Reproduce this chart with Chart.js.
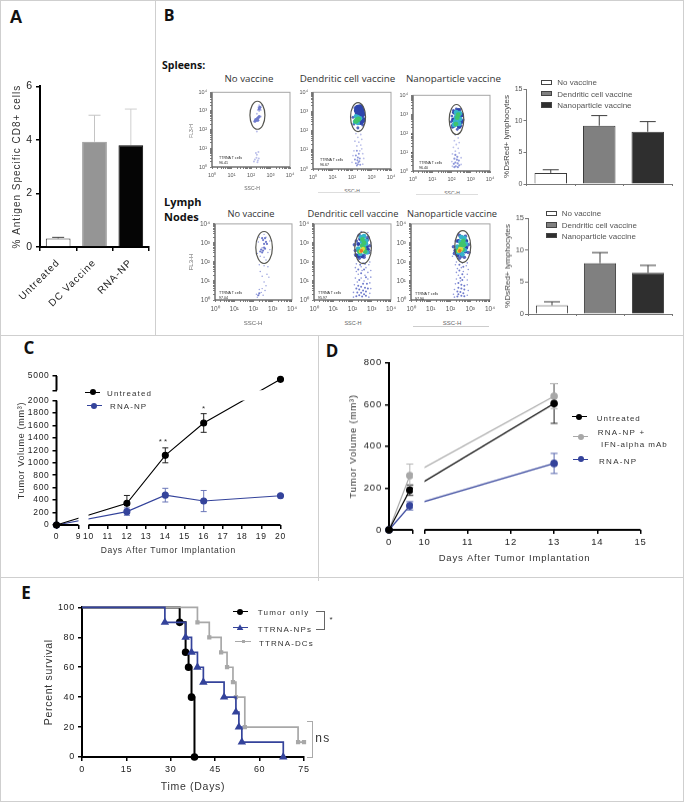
<!DOCTYPE html>
<html>
<head>
<meta charset="utf-8">
<script src="https://cdn.jsdelivr.net/npm/chart.js@4"></script>
<style>
html,body{margin:0;padding:0;background:#fff}
#fig{position:absolute;left:0;top:0;width:684px;height:802px;overflow:hidden;background:#fff;filter:blur(.3px)}
#fig canvas{position:absolute}
#fig div{position:absolute;white-space:nowrap}
</style>
</head>
<body>
<div id="fig"></div>
<script>
// panel A
var aCategories = ['Untreated', 'DC Vaccine', 'RNA-NP'];
var aValues = [0.32, 3.93, 3.8];
var aErrors = [0.04, 0.99, 1.35];

// panel B bars
var bCategories = ['No vaccine', 'Dendritic cell vaccine', 'Nanoparticle vaccine'];
var spleenValues = [1.75, 9.2, 8.25];
var spleenErrors = [0.5, 1.6, 1.6];
var nodeValues = [1.35, 7.95, 6.45];
var nodeErrors = [0.55, 1.65, 1.15];

// panel C
var cDays = [0, 12, 14, 16, 20];
var cUntreated = [0, 350, 1120, 1640, 4300];
var cUntreatedErr = [0, 125, 120, 150, 0];
var cRnaNp = [0, 215, 480, 385, 470];
var cRnaNpErr = [0, 60, 110, 170, 0];
var cXTicks = [0, 9, 10, 11, 12, 13, 14, 15, 16, 17, 18, 19, 20];
var cYTicks = [0, 200, 400, 600, 800, 1000, 1200, 1400, 1600, 1800, 2000, 2001, 5000];

// panel D
var dDays = [0, 7, 13];
var dUntreated = [0, 190, 605];
var dUntreatedErr = [0, 25, 95];
var dCombo = [0, 260, 640];
var dComboErr = [0, 55, 60];
var dRnaNp = [0, 115, 318];
var dRnaNpErr = [0, 20, 48];
var dXTicks = [0, 8, 10, 11, 12, 13, 14, 15];

// panel E
var eTumorDays = [0, 33, 35, 36, 37, 38];
var eTumorSurv = [100, 90, 70, 60, 40, 0];
var eNpDays = [0, 28, 35, 37, 39, 41, 48, 52, 53, 54, 68];
var eNpSurv = [100, 90, 80, 70, 60, 50, 40, 30, 20, 10, 0];
var eDcDays = [0, 39, 43, 47, 49, 51, 52, 55, 73, 75];
var eDcSurv = [100, 90, 80, 70, 60, 50, 40, 20, 10, 10];

// flow plots, [log10 SSC, log10 FL3] read by eye
var s1Pale = [[2.42,3.3],[2.5,3.2],[2.45,3.1],[2.38,3.2],[2.5,3.05],[2.42,3.0],[2.55,3.3],[2.35,3.05],[2.3,2.85],[2.2,2.55],[2.5,2.7],[2.3,0.65],[2.2,0.4],[2.35,0.35],[2.28,0.5],[2.4,0.45],[2.33,0.25],[2.15,0.3],[2.25,0.75],[2.38,0.8],[2.3,1.9]];
var s1Blue = [[2.25,2.55],[2.32,2.6],[2.38,2.65],[2.28,2.5],[2.42,2.7],[2.2,2.45],[2.35,2.5],[2.45,3.2],[2.42,3.1]];

var s2Pale = [[2.3,2.1],[2.4,2.0],[2.2,1.85],[2.45,1.8],[2.3,1.65],[2.5,1.55],[2.15,1.45],[2.35,1.4],[2.45,1.25],[2.25,1.2],[2.5,1.05],[2.1,0.95],[2.4,0.95],[2.55,0.8],[2.05,0.7],[2.6,0.55],[2.0,0.35],[2.55,0.25]];
var s2Blue = [[2.25,0.95],[2.35,0.8],[2.2,0.7],[2.3,0.6],[2.4,0.55],[2.15,0.5],[2.28,0.45],[2.38,0.4],[2.2,0.3],[2.3,0.25],[2.42,0.22],[2.25,0.18],[2.33,0.35]];
var s2Ring = [[2.05,2.7],[2.6,2.6],[2.55,2.3],[2.3,2.15],[2.1,2.35],[2.6,2.95],[2.15,3.2]];
var s2Dark = [[2.3,3.2],[2.42,3.22],[2.25,3.05],[2.38,3.05],[2.5,3.05],[2.3,2.9],[2.42,2.9],[2.52,2.85],[2.45,2.45],[2.55,2.55]];
var s2Cyan = [[2.15,2.45],[2.3,2.72],[2.42,2.65],[2.2,2.75],[2.3,2.4]];
var s2Green = [[2.25,2.55],[2.33,2.6],[2.2,2.5]];

var s3Pale = [[2.3,2.15],[2.4,2.0],[2.2,1.9],[2.35,1.75],[2.15,1.6],[2.4,1.5],[2.25,1.4],[2.1,1.25],[2.35,1.2],[2.2,1.05],[2.4,0.95],[2.05,0.9],[2.5,0.7],[2.02,0.5],[2.5,0.35],[2.05,0.25]];
var s3Blue = [[2.2,0.85],[2.3,0.75],[2.15,0.65],[2.28,0.6],[2.38,0.55],[2.2,0.45],[2.32,0.4],[2.12,0.38],[2.4,0.3],[2.22,0.25],[2.33,0.2],[2.15,0.2]];
var s3Ring = [[2.1,3.2],[2.25,3.28],[2.45,3.25],[2.55,3.0],[2.6,2.7],[2.5,2.4],[2.3,2.2],[2.05,2.3],[1.98,2.6],[2.02,2.9]];
var s3Dark = [[2.15,3.1],[2.35,3.2],[2.5,2.95],[2.5,2.6],[2.1,2.7],[2.4,2.35],[2.1,2.4]];
var s3Cyan = [[2.25,3.1],[2.42,3.05],[2.25,2.85],[2.42,2.75],[2.2,2.62],[2.38,2.5],[2.15,2.45]];
var s3Green = [[2.35,2.98],[2.3,2.82],[2.23,2.48]];

var n1Pale = [[2.3,3.3],[2.55,3.45],[2.65,3.3],[2.85,3.1],[2.25,3.05],[2.45,2.75],[2.2,2.45],[2.75,2.5],[2.35,2.3],[2.55,2.25],[2.85,2.65],[2.65,2.1],[2.3,1.85],[2.55,1.8],[2.75,1.75],[2.35,1.5],[2.7,1.35],[2.45,1.25],[2.8,1.2],[2.55,0.95],[2.65,0.75],[2.45,0.6],[2.6,0.5],[2.15,0.3],[2.3,0.55],[2.5,0.25],[2.2,0.15],[2.4,0.4]];
var n1Blue = [[2.6,3.25],[2.5,3.15],[2.65,3.05],[2.55,2.95],[2.45,3.25],[2.7,2.95],[2.4,2.65],[2.5,2.6],[2.6,2.7],[2.35,2.55],[2.55,2.75],[2.45,2.5],[2.25,0.25],[2.3,0.35]];

var n2Pale = [[2.45,3.6],[2.8,3.55],[2.1,2.4],[2.95,2.6],[2.95,3.0],[2.3,2.05],[2.9,2.0],[2.2,1.9],[2.55,1.95],[2.85,1.85],[2.15,1.7],[2.45,1.75],[2.7,1.7],[2.95,1.55],[2.2,1.5],[2.5,1.55],[2.8,1.45],[2.3,1.35],[2.65,1.3],[2.95,1.2],[2.15,1.15],[2.45,1.15],[2.8,1.1],[2.25,0.95],[2.6,1.0],[2.9,0.9],[2.1,0.8],[2.95,0.6],[2.05,0.4],[2.9,0.35],[2.05,0.15],[2.85,0.15]];
var n2Blue = [[2.4,1.85],[2.65,1.9],[2.3,1.6],[2.6,1.6],[2.45,1.4],[2.7,1.2],[2.35,1.05],[2.55,0.85],[2.75,0.85],[2.3,0.75],[2.45,0.7],[2.65,0.65],[2.8,0.6],[2.2,0.6],[2.35,0.55],[2.55,0.5],[2.7,0.45],[2.25,0.4],[2.45,0.38],[2.6,0.3],[2.35,0.25],[2.5,0.18],[2.2,0.2],[2.7,0.22]];
var n2Ring = [[2.2,3.1],[2.35,3.4],[2.8,3.3],[2.9,2.85],[2.85,2.5],[2.6,2.25],[2.35,2.2],[2.15,2.6],[2.1,2.9],[2.6,2.35]];
var n2Dark = [[2.4,3.2],[2.75,3.15],[2.75,2.8],[2.3,2.95],[2.2,2.35],[2.5,2.3],[2.8,2.65],[2.3,2.3]];
var n2Cyan = [[2.45,3.3],[2.6,3.35],[2.7,3.1],[2.5,3.05],[2.62,2.9],[2.3,2.7],[2.75,2.5],[2.4,2.42],[2.7,2.95]];
var n2Green = [[2.52,3.18],[2.6,3.0],[2.5,2.85],[2.35,2.55],[2.6,2.72],[2.65,2.55]];
var n2Yellow = [[2.42,2.55],[2.55,2.7],[2.48,2.62]];
var n2Orange = [[2.46,2.58]];

var n3Pale = [[2.4,3.5],[2.8,3.4],[2.1,2.3],[3.0,2.5],[2.95,3.0],[2.3,2.0],[2.85,1.95],[2.25,1.85],[2.6,1.95],[2.8,1.8],[2.35,1.65],[2.55,1.7],[2.9,1.6],[2.3,1.45],[2.65,1.5],[2.85,1.35],[2.4,1.3],[2.7,1.2],[2.3,1.1],[2.85,1.05],[2.5,1.0],[2.25,0.85],[2.85,0.8],[2.2,0.55],[2.9,0.5],[2.15,0.3],[2.85,0.25],[2.2,0.15]];
var n3Blue = [[2.45,1.85],[2.65,1.75],[2.45,1.55],[2.6,1.35],[2.5,1.15],[2.6,1.05],[2.4,0.9],[2.55,0.8],[2.7,0.75],[2.4,0.65],[2.55,0.6],[2.7,0.55],[2.35,0.45],[2.5,0.42],[2.65,0.35],[2.4,0.3],[2.55,0.22],[2.7,0.2],[2.35,0.18]];
var n3Ring = [[2.3,3.1],[2.45,3.4],[2.75,3.35],[2.9,2.9],[2.9,2.5],[2.7,2.25],[2.45,2.2],[2.2,2.45],[2.15,2.8],[2.55,2.3]];
var n3Dark = [[2.4,3.1],[2.8,3.1],[2.8,2.75],[2.25,2.6],[2.35,2.35],[2.55,2.4],[2.75,2.55]];
var n3Cyan = [[2.55,3.3],[2.7,3.25],[2.5,3.05],[2.78,2.95],[2.35,2.8],[2.4,2.5],[2.72,2.62],[2.6,2.4]];
var n3Green = [[2.65,3.1],[2.55,2.95],[2.68,2.88],[2.5,2.8],[2.35,2.6],[2.62,2.65]];
var n3Yellow = [[2.42,2.58],[2.55,2.68],[2.48,2.7]];
var n3Orange = [[2.47,2.58]];

var minorLog = [0.301, 0.477, 0.602, 0.699, 0.778, 0.845, 0.903, 0.954];
var superscripts = ['⁰', '¹', '²', '³', '⁴'];

var fig = document.getElementById('fig');
var sansFont = 'Liberation Sans, Arial, sans-serif';
var bodyFont = 'Open Sans, Noto Sans, sans-serif';
var blue = '#34439b';
var grey = '#a8a8a8';

function text(str, x, y, o) {
	o = o || {};
	var d = document.createElement('div');
	d.textContent = str;
	d.style.left = x + 'px';
	d.style.top = y + 'px';
	d.style.font = (o.weight || 'normal') + ' ' + (o.size || 10) + 'px ' + (o.font || sansFont);
	d.style.color = o.color || '#222';
	d.style.letterSpacing = (o.ls || 0) + 'px';
	var tr = o.left ? 'translate(0,-50%)' : 'translate(-50%,-50%)';
	if (o.rot) tr += ' rotate(' + o.rot + 'deg)';
	d.style.transform = tr;
	fig.appendChild(d);
}

function block(x, y, w, h, css) {
	var d = document.createElement('div');
	d.style.cssText = 'left:' + x + 'px;top:' + y + 'px;width:' + w + 'px;height:' + h + 'px;' + (css || '');
	fig.appendChild(d);
}

function keyLine(x1, x2, y, color, mx, shape) {
	block(x1, y - 0.5, x2 - x1, 1, 'background:' + color);
	if (shape == 'circle') block(mx - 3, y - 3, 6, 6, 'background:' + color + ';border-radius:50%');
	if (shape == 'triangle') block(mx - 3.5, y - 3.5, 7, 6, 'background:' + color + ';clip-path:polygon(50% 0,100% 100%,0 100%)');
	if (shape == 'square') block(mx - 1.5, y - 1.5, 3, 3, 'background:' + color);
}

function swatch(x, y, w, h, fill) {
	block(x, y - h / 2, w, h, 'box-sizing:border-box;border:1px solid #444;background:' + fill);
}

// draw error bars from dataset.errors through the chart's scales
var errorBars = {
	id: 'errorBars',
	beforeDatasetsDraw: function(chart) {
		var ctx = chart.ctx;
		chart.data.datasets.forEach(function(ds, i) {
			if (!ds.errors) return;
			var meta = chart.getDatasetMeta(i);
			var yScale = chart.scales[meta.yAxisID];
			ctx.save();
			ctx.lineWidth = ds.errorWidth || 1;
			ds.errors.forEach(function(err, j) {
				if (!err) return;
				var v = ds.data[j].y !== undefined ? ds.data[j].y : ds.data[j];
				var x = meta.data[j].x;
				var up = yScale.getPixelForValue(v + err);
				var down = ds.upOnly ? yScale.getPixelForValue(v) : yScale.getPixelForValue(v - err);
				var cap = ds.errorCap / 2;
				ctx.strokeStyle = ds.errorColors ? ds.errorColors[j] : ds.errorColor;
				ctx.beginPath();
				ctx.moveTo(x, up);
				ctx.lineTo(x, down);
				ctx.moveTo(x - cap, up);
				ctx.lineTo(x + cap, up);
				if (!ds.upOnly) {
					ctx.moveTo(x - cap, down);
					ctx.lineTo(x + cap, down);
				}
				ctx.stroke();
			});
			ctx.restore();
		});
	}
};

// linear scale cut in pieces, for the broken axes of C and D
class BrokenScale extends Chart.LinearScale {
	getPixelForValue(v) {
		var ps = this.options.pieces;
		var p = ps[ps.length - 1];
		for (var i = 0; i < ps.length; i++) {
			if (v <= ps[i].to) { p = ps[i]; break; }
		}
		var off = p.a + (v - p.from) / (p.to - p.from) * (p.b - p.a);
		return this.isHorizontal() ? this.left + off : this.bottom - off;
	}
}
BrokenScale.id = 'broken';
BrokenScale.defaults = Chart.LinearScale.defaults;
Chart.register(BrokenScale);

// lines are hidden inside the breaks and the axis is drawn piece by piece
var breaks = {
	id: 'breaks',
	beforeDatasetsDraw: function(chart) {
		var ctx = chart.ctx;
		ctx.save();
		ctx.beginPath();
		ctx.rect(0, 0, chart.width, chart.height);
		['x', 'y'].forEach(function(k) {
			var s = chart.scales[k];
			if (s.type != 'broken') return;
			var ps = s.options.pieces;
			for (var i = 0; i < ps.length - 1; i++) {
				var p0 = s.getPixelForValue(ps[i].to);
				var p1 = s.getPixelForValue(ps[i + 1].from);
				if (k == 'x') ctx.rect(p0, 0, p1 - p0, chart.height);
				else ctx.rect(0, p1, chart.width, p0 - p1);
			}
		});
		ctx.clip('evenodd');
	},
	afterDatasetsDraw: function(chart) {
		chart.ctx.restore();
	},
	afterDraw: function(chart) {
		var ctx = chart.ctx;
		ctx.save();
		ctx.strokeStyle = '#000';
		ctx.lineWidth = 2;
		['x', 'y'].forEach(function(k) {
			var s = chart.scales[k];
			if (s.type != 'broken') return;
			s.options.pieces.forEach(function(p) {
				var a = s.getPixelForValue(p.from);
				var b = s.getPixelForValue(p.to);
				ctx.beginPath();
				if (k == 'x') {
					ctx.moveTo(a, chart.chartArea.bottom);
					ctx.lineTo(b, chart.chartArea.bottom);
				} else {
					ctx.moveTo(chart.chartArea.left, a);
					ctx.lineTo(chart.chartArea.left, b);
				}
				ctx.stroke();
			});
		});
		ctx.restore();
	}
};

function spacing(px) {
	return {
		id: 'spacing',
		beforeDraw: function(chart) {
			chart.ctx.letterSpacing = px + 'px';
		}
	};
}

function makeChart(box, m, config) {
	var c = document.createElement('canvas');
	var w = box.r - box.l + m.left + m.right;
	var h = box.b - box.t + m.top + m.bottom;
	c.width = w;
	c.height = h;
	c.style.left = (box.l - m.left) + 'px';
	c.style.top = (box.t - m.top) + 'px';
	c.style.width = w + 'px';
	c.style.height = h + 'px';
	fig.appendChild(c);
	var opt = config.options;
	opt.responsive = false;
	opt.animation = false;
	opt.devicePixelRatio = 1;
	opt.layout = { padding: { left: 0, top: m.top, right: m.right, bottom: 0 } };
	opt.plugins = { legend: { display: false }, tooltip: { enabled: false } };
	opt.scales.x.afterFit = function(s) { s.height = m.bottom; };
	opt.scales.y.afterFit = function(s) { s.width = m.left; };
	return new Chart(c, config);
}

function strongAxis(size, color, width) {
	return {
		border: { display: true, color: color || '#000', width: width || 2 },
		grid: { drawOnChartArea: false, drawTicks: true, tickLength: 4, color: color || '#000', lineWidth: width || 1.5 },
		ticks: { font: { family: sansFont, size: size }, color: '#222', padding: 3, autoSkip: false, maxRotation: 0 }
	};
}

function withTitle(axis, str, size, color) {
	axis.title = { display: true, text: str, font: { family: sansFont, size: size }, color: color || '#333', padding: { top: 0, bottom: 0 } };
	return axis;
}

function pairs(xs, ys) {
	return xs.map(function(x, i) { return { x: x, y: ys[i] }; });
}

// ---- panel frames ----
block(0, 0, 684, 1, 'background:#cfcfcf');
block(0, 0, 1, 802, 'background:#cfcfcf');
block(683, 0, 1, 802, 'background:#cfcfcf');
block(155, 0, 1, 335, 'background:#cfcfcf');
block(0, 335, 684, 1, 'background:#cfcfcf');
block(318, 335, 1, 246, 'background:#cfcfcf');
block(0, 577, 684, 1, 'background:#cfcfcf');
block(0, 801, 684, 1, 'background:#cfcfcf');

text('A', 16, 17, { size: 18, weight: 'bold', font: sansFont, color: '#111' });
text('B', 169, 15, { size: 16, weight: 'bold', font: bodyFont, color: '#111' });
text('C', 29, 347, { size: 17, weight: 'bold', font: bodyFont, color: '#111' });
text('D', 332, 350, { size: 17, weight: 'bold', font: bodyFont, color: '#111' });
text('E', 26, 592, { size: 17, weight: 'bold', font: bodyFont, color: '#111' });

// ---- panel A ----
var aY = strongAxis(10.5);
withTitle(aY, '% Antigen Specific CD8+ cells', 10, '#333');
aY.min = 0; aY.max = 6; aY.ticks.stepSize = 2;
var aX = strongAxis(10);
aX.ticks.minRotation = 45; aX.ticks.maxRotation = 45; aX.ticks.padding = 6;
makeChart({ l: 40, t: 85, r: 149, b: 247 }, { left: 29, top: 8, right: 4, bottom: 75 }, {
	type: 'bar',
	data: {
		labels: aCategories,
		datasets: [{
			data: aValues,
			backgroundColor: ['#ffffff', '#959595', '#050505'],
			borderColor: ['#333333', '#959595', '#050505'],
			borderWidth: 1,
			barPercentage: 0.68,
			categoryPercentage: 1,
			errors: aErrors,
			upOnly: true,
			errorCap: 12,
			errorColors: ['#444444', '#c4c4c4', '#cfcfcf']
		}]
	},
	options: { scales: { x: aX, y: aY } },
	plugins: [spacing(1), errorBars]
});

// ---- panel B text ----
text('Spleens:', 162, 65, { left: 1, size: 10.5, weight: 'bold', font: bodyFont, color: '#111' });
text('Lymph', 164, 201, { left: 1, size: 11, weight: 'bold', font: bodyFont, color: '#111' });
text('Nodes', 164, 216, { left: 1, size: 11, weight: 'bold', font: bodyFont, color: '#111' });
text('No vaccine', 249, 78, { size: 9.7, font: bodyFont, color: '#333' });
text('Dendritic cell vaccine', 347.5, 78, { size: 9.8, font: bodyFont, color: '#333' });
text('Nanoparticle vaccine', 453.5, 78, { size: 9.8, font: bodyFont, color: '#333' });
text('No vaccine', 251, 213, { size: 9.3, font: bodyFont, color: '#333' });
text('Dendritic cell vaccine', 353, 213, { size: 9.3, font: bodyFont, color: '#333' });
text('Nanoparticle vaccine', 452, 213, { size: 9.3, font: bodyFont, color: '#333' });

// ---- flow plots ----
var flowColors = { pale: '#bcc0ea', mid: '#8f98da', blue: '#6f7bcc', ring: '#5768c0', dark: '#2e45ad', cyan: '#35b3cb', green: '#3fc46d', yellow: '#d9dc3c', orange: '#e8762b' };

function flowTicks(s) {
	var t = [];
	for (var d = 0; d < 4; d++) {
		t.push({ value: d });
		minorLog.forEach(function(m) { t.push({ value: d + m }); });
	}
	t.push({ value: 4 });
	s.ticks = t;
}

function flowAxis(size) {
	return {
		type: 'linear', min: 0, max: 4,
		border: { display: false },
		grid: { drawOnChartArea: false, drawTicks: true, tickLength: 2, color: '#444', lineWidth: 0.7 },
		afterBuildTicks: flowTicks,
		ticks: {
			font: { family: sansFont, size: size }, color: '#555', padding: 3, autoSkip: false, maxRotation: 0,
			callback: function(v) { return Number.isInteger(v) ? '10' + superscripts[v] : ''; }
		}
	};
}

function flowPlot(box, layers, gate, size) {
	var datasets = layers.map(function(l) {
		return { data: l[0].map(function(p) { return { x: p[0], y: p[1] }; }), backgroundColor: flowColors[l[1]], pointRadius: l[2], pointBorderWidth: 0 };
	}).reverse();
	var chart = makeChart(box, { left: 18, top: 6, right: 8, bottom: 16 }, {
		type: 'scatter',
		data: { datasets: datasets },
		options: { scales: { x: flowAxis(size), y: flowAxis(size) } },
		plugins: [{
			id: 'gate',
			beforeDatasetsDraw: function(c) {
				var a = c.chartArea, ctx = c.ctx;
				ctx.save();
				ctx.strokeStyle = '#a5a5a5';
				ctx.lineWidth = 1;
				ctx.strokeRect(a.left, a.top, a.right - a.left, a.bottom - a.top);
				ctx.strokeStyle = '#555';
				ctx.beginPath();
				ctx.moveTo(a.left, a.top);
				ctx.lineTo(a.left, a.bottom);
				ctx.lineTo(a.right, a.bottom);
				ctx.stroke();
				ctx.restore();
			},
			afterDatasetsDraw: function(c) {
				var ctx = c.ctx;
				ctx.save();
				ctx.strokeStyle = '#55554f';
				ctx.lineWidth = 1.2;
				ctx.beginPath();
				ctx.ellipse(c.scales.x.getPixelForValue(gate[0]), c.scales.y.getPixelForValue(gate[1]), gate[2], gate[3], 0, 0, Math.PI * 2);
				ctx.stroke();
				ctx.restore();
			}
		}]
	});
	chart.canvas.style.filter = 'blur(.55px)';
}

flowPlot({ l: 212, t: 92, r: 290, b: 167 }, [[s1Pale, 'pale', 1], [s1Blue, 'blue', 1.5]], [2.33, 2.77, 7.5, 14], 5.5);
flowPlot({ l: 313, t: 92, r: 391, b: 169 }, [[s2Pale, 'pale', 0.9], [s2Blue, 'mid', 1], [s2Ring, 'ring', 1.5], [s2Dark, 'dark', 3], [s2Cyan, 'cyan', 2.2], [s2Green, 'green', 2.6]], [2.31, 2.71, 7.5, 14.5], 5.5);
flowPlot({ l: 413, t: 95, r: 490, b: 171 }, [[s3Pale, 'pale', 0.9], [s3Blue, 'mid', 1.1], [s3Ring, 'ring', 1.4], [s3Dark, 'dark', 2.4], [s3Cyan, 'cyan', 2.6], [s3Green, 'green', 2.4]], [2.26, 2.72, 7.3, 15], 5.5);
flowPlot({ l: 215, t: 223, r: 292, b: 300 }, [[n1Pale, 'mid', 0.7], [n1Blue, 'blue', 1.1]], [2.55, 2.76, 8.3, 16], 6.5);
flowPlot({ l: 314, t: 223, r: 391, b: 300 }, [[n2Pale, 'mid', 0.8], [n2Blue, 'blue', 1], [n2Ring, 'ring', 1.8], [n2Dark, 'dark', 2], [n2Cyan, 'cyan', 2.4], [n2Green, 'green', 2.4], [n2Yellow, 'yellow', 2], [n2Orange, 'orange', 1.8]], [2.55, 2.74, 8.3, 15.7], 6.5);
flowPlot({ l: 411, t: 223, r: 490, b: 300 }, [[n3Pale, 'mid', 0.8], [n3Blue, 'blue', 1], [n3Ring, 'ring', 1.8], [n3Dark, 'dark', 2], [n3Cyan, 'cyan', 2.4], [n3Green, 'green', 2.4], [n3Yellow, 'yellow', 2], [n3Orange, 'orange', 1.8]], [2.62, 2.81, 8, 16], 6.5);

var tiny = { size: 5, color: '#666' };
text('FL3-H', 191, 131, { size: 5, color: '#666', rot: -90 });
text('FL3-H', 191, 262, { size: 6, color: '#666', rot: -90 });
text('SSC-H', 252, 188, tiny);
text('SSC-H', 352, 191, tiny);
text('SSC-H', 452, 193, tiny);
text('SSC-H', 253, 323, { size: 6, color: '#666' });
text('SSC-H', 353, 323, { size: 5.5, color: '#666' });
text('SSC-H', 452, 323, { size: 6, color: '#666' });
block(318, 192, 62, 1, 'background:#ddd');
block(416, 194, 62, 1, 'background:#ddd');
block(413, 326, 76, 1, 'background:#ccc');

var gateTexts = [[219, 158, '96.41'], [320, 160, '96.67'], [419, 163, '96.40'], [219, 293, '97.04'], [318, 293, '95.97'], [415, 294, '97.90']];
gateTexts.forEach(function(g) {
	text('TTRNA T cells', g[0], g[1], { left: 1, size: 3.6, color: '#222' });
	text(g[2], g[0], g[1] + 4.5, { left: 1, size: 3.6, color: '#222' });
});

// ---- panel B bars ----
function groupBars(box, left, values, errors, tickSize, titleSize) {
	var y = strongAxis(tickSize, '#777', 1);
	y.min = 0; y.max = 15; y.ticks.stepSize = 5; y.ticks.color = '#555'; y.grid.tickLength = 3; y.ticks.padding = 1;
	withTitle(y, '%DsRed+ lymphocytes', titleSize, '#444');
	var x = strongAxis(tickSize, '#777', 1);
	x.grid.tickLength = 2;
	x.ticks.display = false;
	makeChart(box, { left: left, top: 6, right: 4, bottom: 6 }, {
		type: 'bar',
		data: {
			labels: bCategories,
			datasets: [{
				data: values,
				backgroundColor: ['#ffffff', '#808080', '#2f2f2f'],
				borderColor: '#3c3c3c',
				borderWidth: 1,
				barPercentage: 0.67,
				categoryPercentage: 1,
				errors: errors,
				upOnly: true,
				errorCap: 16,
				errorColor: '#3c3c3c'
			}]
		},
		options: { scales: { x: x, y: y } },
		plugins: [errorBars]
	});
}
groupBars({ l: 526, t: 88.7, r: 672, b: 184.3 }, 24.5, spleenValues, spleenErrors, 7, 8);
groupBars({ l: 528, t: 218, r: 672, b: 313.7 }, 25, nodeValues, nodeErrors, 7.5, 8);

var keyFills = ['#ffffff', '#808080', '#2f2f2f'];
[82.3, 93.7, 105].forEach(function(y, i) {
	swatch(541, y, 11, 5.5, keyFills[i]);
	text(bCategories[i], 557.3, y, { left: 1, size: 8, color: '#555' });
});
[213.3, 225, 235.7].forEach(function(y, i) {
	swatch(546, y, 10.5, 5.5, keyFills[i]);
	text(bCategories[i], 561.7, y, { left: 1, size: 8, color: '#555' });
});

// ---- panel C ----
var cX = strongAxis(8.5);
cX.type = 'broken'; cX.min = 0; cX.max = 20;
cX.pieces = [{ from: 0, to: 9, a: 0, b: 22 }, { from: 10, to: 20, a: 32, b: 224 }];
cX.border.display = false;
cX.afterBuildTicks = function(s) { s.ticks = cXTicks.map(function(v) { return { value: v }; }); };
cX.ticks.callback = function(v) { return String(v); };
withTitle(cX, 'Days After Tumor Implantation', 8.5);
var cY = strongAxis(8.5);
cY.type = 'broken'; cY.min = 0; cY.max = 5000;
cY.pieces = [{ from: 0, to: 2000, a: 0, b: 124.4 }, { from: 2001, to: 5000, a: 134.7, b: 149 }];
cY.border.display = false;
cY.afterBuildTicks = function(s) { s.ticks = cYTicks.map(function(v) { return { value: v }; }); };
cY.ticks.callback = function(v) { return v == 2001 ? '' : String(v); };
withTitle(cY, 'Tumor Volume (mm³)', 9);
makeChart({ l: 56, t: 375.7, r: 280, b: 524.7 }, { left: 40.5, top: 8, right: 10, bottom: 31 }, {
	type: 'line',
	data: {
		datasets: [
			{ data: pairs(cDays, cUntreated), borderColor: '#000', backgroundColor: '#000', borderWidth: 1.1, pointRadius: 3, clip: false, errors: cUntreatedErr, errorCap: 6, errorColor: '#222' },
			{ data: pairs(cDays, cRnaNp), borderColor: blue, backgroundColor: blue, borderWidth: 1.1, pointRadius: 3, clip: false, errors: cRnaNpErr, errorCap: 6, errorColor: '#6a76b8' }
		]
	},
	options: { scales: { x: cX, y: cY } },
	plugins: [spacing(0.7), errorBars, breaks]
});
keyLine(85, 100, 392, '#000', 92.5, 'circle');
text('Untreated', 107, 392.5, { left: 1, size: 8, ls: 1.1, color: '#333' });
keyLine(87, 102, 405.5, blue, 94, 'circle');
text('RNA-NP', 110, 406, { left: 1, size: 8, ls: 1.1, color: '#333' });
text('* *', 163, 441, { size: 8, color: '#333' });
text('*', 203.5, 407.5, { size: 8, color: '#333' });

// ---- panel D ----
var dX = strongAxis(9.5);
dX.type = 'broken'; dX.min = 0; dX.max = 15;
dX.pieces = [{ from: 0, to: 8, a: 0, b: 23.8 }, { from: 10, to: 15, a: 35.5, b: 251.5 }];
dX.border.display = false;
dX.afterBuildTicks = function(s) { s.ticks = dXTicks.map(function(v) { return { value: v }; }); };
dX.ticks.callback = function(v) { return v == 8 ? '' : String(v); };
withTitle(dX, 'Days After Tumor Implantation', 9.5);
var dY = strongAxis(9.5);
dY.min = 0; dY.max = 800; dY.ticks.stepSize = 200;
withTitle(dY, 'Tumor Volume (mm³)', 9.5);
makeChart({ l: 388.5, t: 362, r: 640, b: 529.7 }, { left: 41, top: 8, right: 10, bottom: 34 }, {
	type: 'line',
	data: {
		datasets: [
			{ data: pairs(dDays, dUntreated), borderColor: '#000', backgroundColor: '#000', borderWidth: 1.2, pointRadius: 3.2, clip: false, errors: dUntreatedErr, errorCap: 7, errorColor: '#222' },
			{ data: pairs(dDays, dRnaNp), borderColor: blue, backgroundColor: blue, borderWidth: 1.2, pointRadius: 3.2, clip: false, errors: dRnaNpErr, errorCap: 7, errorColor: '#5a68ae' },
			{ data: pairs(dDays, dCombo), borderColor: grey, backgroundColor: grey, borderWidth: 1.1, pointRadius: 3.2, clip: false, errors: dComboErr, errorCap: 7, errorColor: '#b5b5b5' }
		]
	},
	options: { scales: { x: dX, y: dY } },
	plugins: [spacing(0.8), errorBars, breaks]
});
keyLine(571.7, 586.7, 416.7, '#000', 579, 'circle');
text('Untreated', 596.7, 418, { left: 1, size: 8, ls: 1, color: '#333' });
keyLine(573, 588, 436.7, grey, 580.7, 'circle');
text('RNA-NP +', 597.7, 431.7, { left: 1, size: 8, ls: 1.3, color: '#333' });
text('IFN-alpha mAb', 601, 444, { left: 1, size: 8, ls: 1, color: '#333' });
keyLine(573, 588, 459.3, blue, 581, 'circle');
text('RNA-NP', 599, 460.7, { left: 1, size: 8, ls: 1.3, color: '#333' });

// ---- panel E ----
var eX = strongAxis(9);
eX.type = 'linear'; eX.min = 0; eX.max = 75; eX.ticks.stepSize = 15;
withTitle(eX, 'Time (Days)', 10.5);
var eY = strongAxis(9);
eY.min = 0; eY.max = 100; eY.ticks.stepSize = 20;
withTitle(eY, 'Percent survival', 10.5);
function hideFirst(r) {
	return function(c) { return c.dataIndex == 0 ? 0 : r; };
}
makeChart({ l: 81.7, t: 606.7, r: 304.3, b: 756.7 }, { left: 39, top: 8, right: 12, bottom: 36 }, {
	type: 'line',
	data: {
		datasets: [
			{ data: pairs(eNpDays, eNpSurv), stepped: true, borderColor: blue, backgroundColor: blue, borderWidth: 1.7, pointStyle: 'triangle', pointRadius: hideFirst(3.2), clip: false },
			{ data: pairs(eDcDays, eDcSurv), stepped: true, borderColor: grey, backgroundColor: grey, borderWidth: 1.7, pointStyle: 'rect', pointRadius: hideFirst(1.8), clip: false },
			{ data: pairs(eTumorDays, eTumorSurv), stepped: true, borderColor: '#000', backgroundColor: '#000', borderWidth: 2, pointRadius: hideFirst(2.8), clip: false }
		]
	},
	options: { scales: { x: eX, y: eY } },
	plugins: [spacing(0.7)]
});
keyLine(233, 248, 611.7, '#000', 240, 'circle');
text('Tumor only', 257.7, 612, { left: 1, size: 8, ls: 1.2, color: '#333' });
keyLine(232.5, 248, 627.7, blue, 240, 'triangle');
text('TTRNA-NPs', 257.7, 628.5, { left: 1, size: 8, ls: 1.1, color: '#333' });
keyLine(235, 250.7, 641.7, grey, 243, 'square');
text('TTRNA-DCs', 259, 642.5, { left: 1, size: 8, ls: 1.1, color: '#333' });
block(316, 610.7, 8, 17.6, 'border:1px solid #666;border-left:none');
text('*', 331, 619, { size: 8, color: '#333' });
block(307.3, 721, 4.4, 35, 'border:1.5px solid #aaa;border-left:none');
text('ns', 323, 737.5, { size: 12, ls: 1.5, color: '#333' });
</script>
</body>
</html>
